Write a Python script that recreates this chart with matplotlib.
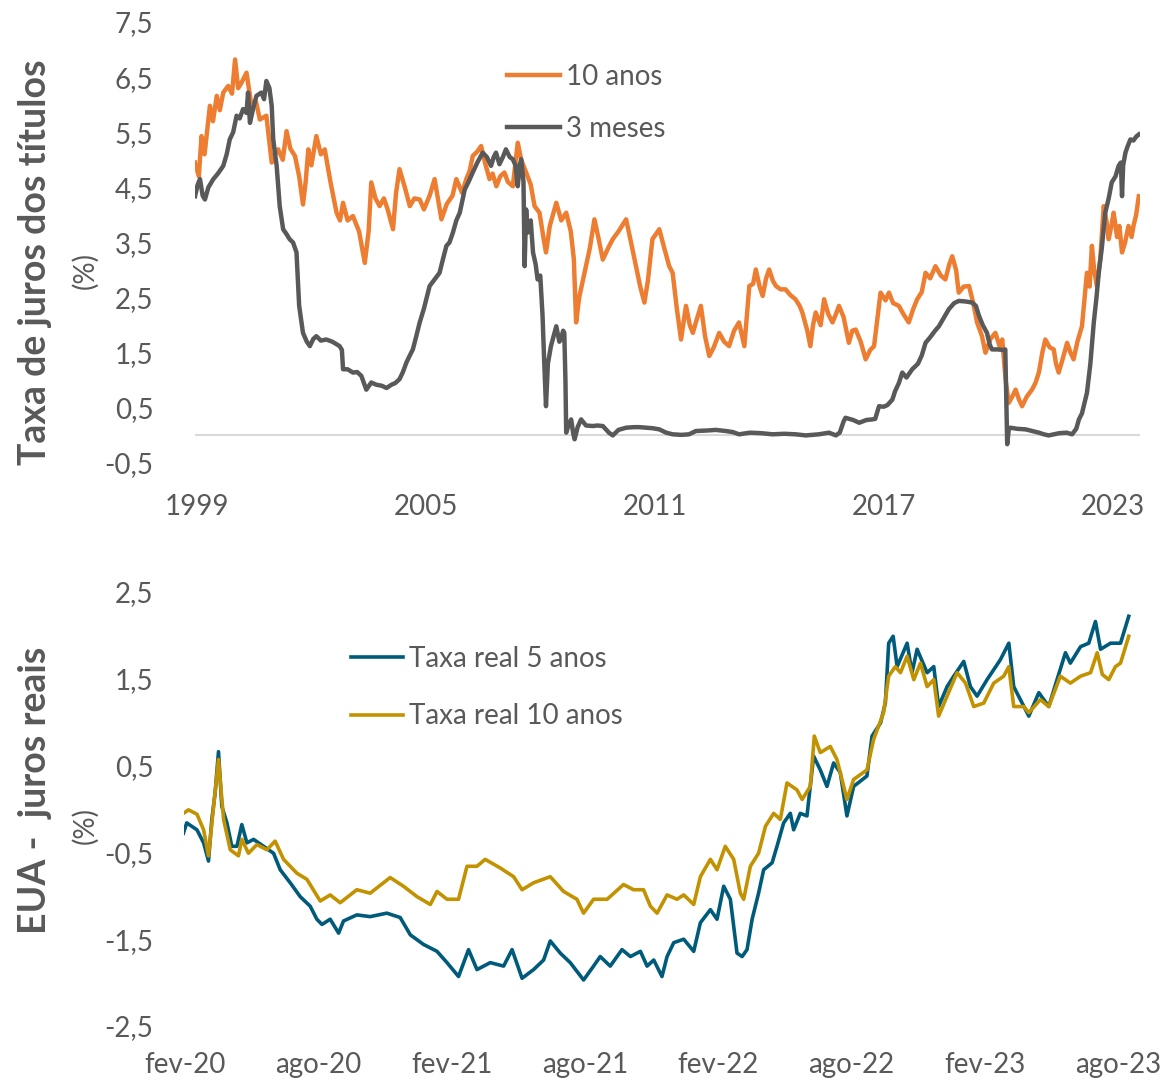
import numpy as np
import matplotlib.pyplot as plt

plt.rcParams['font.family'] = ['Lato', 'DejaVu Sans']

# ---- dados: painel superior (anos) ----
t10 = [1998.95, 1999.05, 1999.12, 1999.20, 1999.34, 1999.42, 1999.52, 1999.60, 1999.69, 1999.82,
       1999.92, 2000.00, 2000.08, 2000.17, 2000.30, 2000.43, 2000.55, 2000.65, 2000.82, 2000.96,
       2001.05, 2001.13, 2001.25, 2001.35, 2001.45, 2001.57, 2001.68, 2001.78, 2001.85, 2001.92,
       2002.00, 2002.13, 2002.25, 2002.35, 2002.50, 2002.66, 2002.75, 2002.83, 2002.95, 2003.09,
       2003.25, 2003.40, 2003.50, 2003.57, 2003.68, 2003.79, 2003.90, 2004.00, 2004.14, 2004.22,
       2004.31, 2004.45, 2004.58, 2004.70, 2004.84, 2004.95, 2005.10, 2005.23, 2005.41, 2005.55,
       2005.70, 2005.80, 2005.95, 2006.06, 2006.15, 2006.23, 2006.35, 2006.45, 2006.55, 2006.67,
       2006.75, 2006.85, 2006.95, 2007.06, 2007.15, 2007.28, 2007.41, 2007.50, 2007.63, 2007.75,
       2007.85, 2007.98, 2008.08, 2008.15, 2008.25, 2008.42, 2008.55, 2008.68, 2008.80, 2008.88,
       2008.94, 2009.02, 2009.16, 2009.30, 2009.42, 2009.52, 2009.64, 2009.78, 2009.90, 2010.05,
       2010.25, 2010.38, 2010.51, 2010.62, 2010.73, 2010.82, 2010.94, 2011.12, 2011.25, 2011.38,
       2011.47, 2011.58, 2011.69, 2011.82, 2011.92, 2012.00, 2012.10, 2012.21, 2012.32, 2012.43,
       2012.55, 2012.69, 2012.82, 2012.95, 2013.08, 2013.21, 2013.35, 2013.48, 2013.58, 2013.65,
       2013.75, 2013.83, 2013.92, 2014.00, 2014.10, 2014.18, 2014.30, 2014.43, 2014.55, 2014.69,
       2014.80, 2014.87, 2015.00, 2015.08, 2015.15, 2015.22, 2015.35, 2015.44, 2015.55, 2015.66,
       2015.75, 2015.83, 2015.95, 2016.09, 2016.18, 2016.27, 2016.40, 2016.53, 2016.65, 2016.75,
       2016.85, 2016.92, 2017.05, 2017.14, 2017.25, 2017.40, 2017.52, 2017.66, 2017.78, 2017.88,
       2018.00, 2018.10, 2018.22, 2018.36, 2018.50, 2018.62, 2018.72, 2018.80, 2018.90, 2018.97,
       2019.10, 2019.24, 2019.35, 2019.45, 2019.58, 2019.67, 2019.80, 2019.93, 2020.05, 2020.11,
       2020.20, 2020.28, 2020.37, 2020.46, 2020.55, 2020.63, 2020.75, 2020.89, 2020.98, 2021.07,
       2021.16, 2021.24, 2021.35, 2021.46, 2021.52, 2021.59, 2021.70, 2021.81, 2021.90, 2021.98,
       2022.08, 2022.20, 2022.33, 2022.40, 2022.46, 2022.52, 2022.59, 2022.68, 2022.77, 2022.84,
       2022.90, 2022.97, 2023.03, 2023.12, 2023.18, 2023.25, 2023.33, 2023.42, 2023.50, 2023.55,
       2023.62, 2023.69]
v10 = [4.95, 4.70, 5.43, 5.10, 5.98, 5.70, 6.16, 5.90, 6.22, 6.34,
       6.20, 6.82, 6.30, 6.40, 6.58, 5.98, 6.05, 5.73, 5.80, 4.95,
       5.10, 5.19, 5.00, 5.52, 5.20, 5.07, 4.70, 4.19, 4.60, 5.19,
       4.90, 5.43, 5.10, 5.19, 4.60, 4.04, 3.90, 4.22, 3.90, 3.98,
       3.70, 3.13, 3.70, 4.59, 4.30, 4.16, 4.30, 4.10, 3.74, 4.40,
       4.83, 4.50, 4.16, 4.30, 4.28, 4.10, 4.35, 4.65, 3.92, 4.20,
       4.35, 4.65, 4.40, 4.65, 4.80, 5.07, 5.15, 5.25, 4.95, 4.65,
       4.75, 4.52, 4.70, 4.77, 4.60, 4.52, 5.31, 5.00, 4.77, 4.55,
       4.16, 4.04, 3.60, 3.32, 3.80, 4.22, 3.90, 4.04, 3.70, 3.20,
       2.05, 2.50, 2.95, 3.40, 3.92, 3.60, 3.19, 3.40, 3.56, 3.70,
       3.92, 3.50, 3.07, 2.70, 2.41, 2.80, 3.56, 3.74, 3.40, 3.07,
       2.95, 2.30, 1.74, 2.35, 2.00, 1.86, 2.10, 2.35, 1.80, 1.44,
       1.60, 1.86, 1.70, 1.62, 1.90, 2.05, 1.62, 2.71, 2.75, 3.01,
       2.70, 2.53, 2.85, 3.01, 2.80, 2.71, 2.65, 2.65, 2.55, 2.47,
       2.35, 2.23, 1.90, 1.62, 2.00, 2.23, 2.00, 2.47, 2.20, 2.05,
       2.20, 2.35, 2.15, 1.68, 1.90, 1.92, 1.70, 1.38, 1.55, 1.62,
       2.20, 2.59, 2.45, 2.59, 2.40, 2.35, 2.20, 2.05, 2.30, 2.47,
       2.60, 2.95, 2.85, 3.07, 2.90, 2.83, 3.10, 3.25, 3.00, 2.59,
       2.70, 2.71, 2.40, 2.05, 1.80, 1.50, 1.75, 1.86, 1.60, 1.74,
       1.00, 0.59, 0.70, 0.83, 0.65, 0.53, 0.70, 0.83, 0.95, 1.14,
       1.50, 1.74, 1.60, 1.56, 1.30, 1.14, 1.40, 1.68, 1.50, 1.38,
       1.70, 1.98, 2.95, 2.70, 3.44, 3.00, 2.71, 3.20, 4.16, 3.90,
       3.56, 3.80, 4.04, 3.60, 3.80, 3.32, 3.50, 3.80, 3.60, 3.80,
       4.00, 4.34]

t3m = [1998.95, 1999.02, 1999.08, 1999.15, 1999.21, 1999.30, 1999.43, 1999.55, 1999.69, 1999.78,
       1999.86, 1999.95, 2000.04, 2000.12, 2000.21, 2000.30, 2000.34, 2000.39, 2000.48, 2000.56,
       2000.69, 2000.76, 2000.82, 2000.90, 2000.96, 2001.00, 2001.09, 2001.17, 2001.26, 2001.35,
       2001.43, 2001.52, 2001.61, 2001.68, 2001.78, 2001.88, 2001.96, 2002.05, 2002.13, 2002.25,
       2002.39, 2002.55, 2002.74, 2002.80, 2002.83, 2002.95, 2003.09, 2003.20, 2003.31, 2003.44,
       2003.57, 2003.70, 2003.85, 2003.97, 2004.10, 2004.20, 2004.31, 2004.40, 2004.49, 2004.58,
       2004.66, 2004.75, 2004.84, 2004.95, 2005.10, 2005.25, 2005.36, 2005.45, 2005.54, 2005.62,
       2005.71, 2005.80, 2005.89, 2006.02, 2006.12, 2006.23, 2006.35, 2006.49, 2006.60, 2006.71,
       2006.78, 2006.84, 2006.93, 2007.02, 2007.10, 2007.20, 2007.28, 2007.35, 2007.41, 2007.46,
       2007.50, 2007.56, 2007.59, 2007.63, 2007.67, 2007.75, 2007.81, 2007.88, 2007.93, 2008.00,
       2008.06, 2008.10, 2008.15, 2008.20, 2008.28, 2008.35, 2008.42, 2008.50, 2008.54, 2008.60,
       2008.63, 2008.66, 2008.68, 2008.75, 2008.81, 2008.86, 2008.90, 2008.98, 2009.07, 2009.20,
       2009.38, 2009.50, 2009.64, 2009.80, 2009.90, 2010.05, 2010.25, 2010.45, 2010.60, 2010.77,
       2010.95, 2011.12, 2011.30, 2011.47, 2011.70, 2011.90, 2012.08, 2012.40, 2012.60, 2012.86,
       2013.05, 2013.21, 2013.50, 2013.80, 2014.09, 2014.40, 2014.70, 2014.96, 2015.30, 2015.57,
       2015.75, 2015.85, 2015.95, 2016.00, 2016.20, 2016.36, 2016.55, 2016.70, 2016.78, 2016.88,
       2017.00, 2017.10, 2017.23, 2017.30, 2017.40, 2017.49, 2017.60, 2017.75, 2017.90, 2018.00,
       2018.10, 2018.22, 2018.35, 2018.45, 2018.55, 2018.71, 2018.85, 2018.97, 2019.15, 2019.32,
       2019.42, 2019.50, 2019.60, 2019.71, 2019.78, 2019.84, 2020.00, 2020.12, 2020.19, 2020.22,
       2020.24, 2020.28, 2020.32, 2020.50, 2020.72, 2020.90, 2021.07, 2021.20, 2021.33, 2021.60,
       2021.80, 2021.94, 2022.05, 2022.12, 2022.20, 2022.33, 2022.42, 2022.51, 2022.58, 2022.64,
       2022.72, 2022.81, 2022.90, 2022.98, 2023.08, 2023.16, 2023.22, 2023.25, 2023.28, 2023.34,
       2023.40, 2023.47, 2023.55, 2023.62, 2023.69]
v3m = [4.34, 4.55, 4.65, 4.35, 4.28, 4.50, 4.65, 4.75, 4.89, 5.10,
       5.37, 5.50, 5.80, 5.75, 5.92, 5.85, 6.22, 5.67, 5.95, 6.16,
       6.22, 6.10, 6.43, 6.30, 5.98, 5.37, 4.89, 4.16, 3.74, 3.65,
       3.56, 3.50, 3.32, 2.35, 1.86, 1.70, 1.62, 1.75, 1.80, 1.72,
       1.74, 1.70, 1.62, 1.55, 1.20, 1.20, 1.14, 1.15, 1.08, 0.83,
       0.96, 0.92, 0.90, 0.86, 0.92, 0.95, 1.02, 1.15, 1.32, 1.45,
       1.56, 1.80, 2.05, 2.30, 2.71, 2.85, 2.95, 3.20, 3.44, 3.50,
       3.68, 3.90, 4.04, 4.46, 4.60, 4.77, 4.95, 5.13, 5.05, 4.89,
       5.05, 5.13, 4.92, 5.05, 5.19, 5.05, 5.01, 4.90, 4.52, 4.90,
       5.01, 4.60, 3.07, 4.10, 3.68, 3.90, 3.32, 3.10, 2.83, 2.90,
       2.17, 1.40, 0.53, 1.30, 1.62, 1.80, 1.98, 1.70, 1.74, 1.90,
       1.86, 1.00, 0.05, 0.20, 0.29, 0.05, -0.07, 0.15, 0.29, 0.18,
       0.17, 0.18, 0.17, 0.05, 0.00, 0.10, 0.14, 0.15, 0.15, 0.14,
       0.13, 0.11, 0.05, 0.02, 0.01, 0.02, 0.08, 0.09, 0.10, 0.08,
       0.06, 0.02, 0.05, 0.04, 0.02, 0.03, 0.02, 0.00, 0.02, 0.05,
       0.00, 0.05, 0.25, 0.32, 0.28, 0.23, 0.28, 0.29, 0.30, 0.53,
       0.52, 0.55, 0.65, 0.80, 0.95, 1.14, 1.05, 1.20, 1.30, 1.45,
       1.68, 1.78, 1.90, 1.98, 2.10, 2.29, 2.40, 2.44, 2.43, 2.41,
       2.35, 2.17, 2.00, 1.86, 1.65, 1.56, 1.56, 1.55, 1.56, 0.50,
       -0.16, 0.10, 0.14, 0.12, 0.11, 0.08, 0.05, 0.02, 0.00, 0.04,
       0.05, 0.02, 0.12, 0.29, 0.40, 0.77, 1.30, 2.05, 2.50, 2.95,
       3.40, 4.04, 4.30, 4.59, 4.70, 4.89, 4.95, 4.34, 4.90, 5.13,
       5.25, 5.37, 5.35, 5.42, 5.46]

top_ticks = [1999, 2005, 2011, 2017, 2023]
top_yticks = [-0.5, 0.5, 1.5, 2.5, 3.5, 4.5, 5.5, 6.5, 7.5]

# ---- dados: painel inferior (meses desde fev-20) ----
m5 = [-0.08, 0.07, 0.53, 0.83, 1.05, 1.20, 1.35, 1.50, 1.65, 1.88, 2.10, 2.33, 2.55, 2.78, 3.08,
      3.53, 3.98, 4.28, 4.73, 5.18, 5.63, 5.93, 6.16, 6.53, 6.91, 7.13, 7.73, 8.33, 9.08, 9.68,
      10.14, 10.73, 11.34, 11.79, 12.31, 12.76, 13.14, 13.74, 14.34, 14.72, 15.17, 15.69, 16.14,
      16.44, 16.89, 17.34, 17.94, 18.39, 18.69, 19.14, 19.67, 20.05, 20.50, 20.80, 21.10, 21.47,
      21.70, 22.00, 22.45, 22.90, 23.20, 23.65, 23.95, 24.25, 24.55, 24.85, 25.08, 25.30, 25.53,
      25.82, 26.05, 26.43, 26.65, 26.95, 27.25, 27.40, 27.70, 28.00, 28.30, 28.60, 28.90, 29.20,
      29.50, 29.80, 30.10, 30.70, 30.93, 31.31, 31.53, 31.68, 31.88, 32.06, 32.51, 32.73, 32.96,
      33.41, 33.71, 33.93, 34.31, 34.61, 35.06, 35.36, 35.66, 36.11, 36.71, 37.09, 37.31, 37.61,
      37.99, 38.44, 38.89, 39.26, 39.64, 39.86, 40.32, 40.69, 40.99, 41.22, 41.67, 42.12, 42.49]
r5 = [-0.28, -0.16, -0.24, -0.39, -0.60, -0.12, 0.19, 0.66, 0.03, -0.16, -0.43, -0.43, -0.18, -0.39, -0.35,
      -0.43, -0.51, -0.70, -0.85, -1.01, -1.12, -1.27, -1.33, -1.27, -1.43, -1.29, -1.22, -1.24, -1.20, -1.25,
      -1.45, -1.56, -1.64, -1.77, -1.93, -1.62, -1.85, -1.77, -1.81, -1.62, -1.95, -1.85, -1.74,
      -1.52, -1.66, -1.77, -1.97, -1.81, -1.70, -1.81, -1.62, -1.70, -1.64, -1.81, -1.74, -1.93,
      -1.70, -1.54, -1.50, -1.64, -1.31, -1.16, -1.27, -0.89, -1.04, -1.66, -1.70, -1.62, -1.27,
      -0.97, -0.70, -0.62, -0.43, -0.16, -0.05, -0.24, -0.05, -0.08, 0.61, 0.45, 0.26, 0.53,
      0.42, -0.08, 0.26, 0.38, 0.84, 0.99, 1.22, 1.91, 1.99, 1.64, 1.91, 1.57, 1.84,
      1.57, 1.64, 1.18, 1.41, 1.53, 1.70, 1.41, 1.30, 1.49, 1.72, 1.91, 1.41, 1.26,
      1.07, 1.34, 1.18, 1.49, 1.80, 1.68, 1.87, 1.91, 2.16, 1.84, 1.91, 1.91, 2.22]

m10 = [-0.08, 0.15, 0.53, 0.83, 1.05, 1.28, 1.50, 1.73, 2.03, 2.40, 2.55, 2.85, 3.23, 3.68, 4.05,
       4.43, 5.03, 5.48, 6.08, 6.53, 6.98, 7.73, 8.33, 9.23, 9.83, 10.44, 11.04, 11.34, 11.79,
       12.31, 12.69, 13.14, 13.51, 14.19, 14.79, 15.17, 15.69, 16.44, 17.04, 17.64, 17.94, 18.39,
       19.00, 19.74, 20.19, 20.64, 20.95, 21.25, 21.70, 22.15, 22.45, 22.90, 23.20, 23.65, 23.95,
       24.32, 24.70, 25.00, 25.15, 25.45, 25.82, 26.13, 26.50, 26.80, 27.10, 27.55, 27.78, 28.15,
       28.33, 28.60, 29.05, 29.35, 29.80, 30.10, 30.70, 31.00, 31.45, 31.68, 31.98, 32.21, 32.51,
       32.81, 33.11, 33.41, 33.71, 33.93, 34.31, 34.76, 35.14, 35.51, 35.96, 36.41, 36.86, 37.09,
       37.31, 37.76, 37.99, 38.51, 38.89, 39.41, 39.86, 40.32, 40.77, 41.07, 41.30, 41.59, 41.89,
       42.12, 42.49]
r10 = [-0.05, -0.01, -0.06, -0.24, -0.54, 0.03, 0.57, -0.12, -0.47, -0.54, -0.35, -0.51, -0.41, -0.47, -0.37,
       -0.58, -0.74, -0.81, -1.06, -0.99, -1.08, -0.93, -0.97, -0.79, -0.89, -1.01, -1.10, -0.95, -1.04,
       -1.04, -0.66, -0.66, -0.58, -0.68, -0.78, -0.93, -0.85, -0.78, -0.95, -1.04, -1.20, -1.04,
       -1.04, -0.87, -0.93, -0.93, -1.12, -1.20, -0.99, -1.04, -0.99, -1.10, -0.78, -0.58, -0.70,
       -0.43, -0.58, -0.97, -1.04, -0.66, -0.51, -0.20, -0.05, -0.12, 0.30, 0.22, 0.11, 0.26,
       0.84, 0.65, 0.72, 0.57, 0.11, 0.34, 0.45, 0.80, 1.11, 1.53, 1.64, 1.57, 1.76,
       1.49, 1.68, 1.41, 1.49, 1.07, 1.30, 1.57, 1.45, 1.18, 1.22, 1.45, 1.53, 1.64,
       1.18, 1.18, 1.11, 1.26, 1.18, 1.53, 1.45, 1.53, 1.57, 1.80, 1.55, 1.49, 1.64,
       1.68, 1.99]

bot_ticks = [0, 6, 12, 18, 24, 30, 36, 42]
bot_labels = ['fev-20', 'ago-20', 'fev-21', 'ago-21', 'fev-22', 'ago-22', 'fev-23', 'ago-23']
bot_yticks = [-2.5, -1.5, -0.5, 0.5, 1.5, 2.5]

txt = '#595959'
fs = 20

fig = plt.figure(figsize=(11.65, 10.84), dpi=100)

def estilo(ax):
    for s in ax.spines.values():
        s.set_visible(False)
    ax.tick_params(length=0, labelsize=fs, labelcolor=txt)

# painel superior
ax1 = fig.add_axes([0.1674, 0.5729, 0.8111, 0.4068])
ax1.axhline(0, color='#D9D9D9', lw=1.5, zorder=1)
ax1.plot(t10, v10, color='#ED7D31', lw=3.2, label='10 anos', zorder=3)
ax1.plot(t3m, v3m, color='#595959', lw=3.2, label='3 meses', zorder=4)
ax1.set_xlim(1998.95, 2023.72)
ax1.set_ylim(-0.5, 7.5)
ax1.set_xticks(top_ticks)
ax1.set_xticklabels([str(a) for a in top_ticks])
ax1.set_yticks(top_yticks)
ax1.set_yticklabels([f'{y:.1f}'.replace('.', ',') for y in top_yticks])
estilo(ax1)
ax1.tick_params(axis='y', pad=30)
ax1.tick_params(axis='x', pad=22)
ax1.legend(loc='upper left', bbox_to_anchor=(0.414, 0.964), bbox_transform=fig.transFigure,
           frameon=False, fontsize=fs, labelcolor=txt, handlelength=1.9,
           handletextpad=0.2, labelspacing=0.94)

# painel inferior
ax2 = fig.add_axes([0.158, 0.0535, 0.8206, 0.4004])
ax2.plot(m5, r5, color='#005B7A', lw=2.6, label='Taxa real 5 anos', zorder=3)
ax2.plot(m10, r10, color='#C29200', lw=2.6, label='Taxa real 10 anos', zorder=4)
ax2.set_xlim(-0.05, 43.0)
ax2.set_ylim(-2.5, 2.5)
ax2.set_xticks(bot_ticks)
ax2.set_xticklabels(bot_labels)
ax2.set_yticks(bot_yticks)
ax2.set_yticklabels([f'{y:.1f}'.replace('.', ',') for y in bot_yticks])
estilo(ax2)
ax2.tick_params(axis='y', pad=22)
ax2.tick_params(axis='x', pad=19)
ax2.legend(loc='upper left', bbox_to_anchor=(0.2795, 0.427), bbox_transform=fig.transFigure,
           frameon=False, fontsize=fs, labelcolor=txt, handlelength=1.9,
           handletextpad=0.2, labelspacing=1.12)

# titulos dos eixos
fig.text(0.030, 1 - 262 / 1084, 'Taxa de juros dos títulos', rotation=90, ha='center', va='center',
         fontsize=27, fontweight='bold', color=txt)
fig.text(0.073, 1 - 270 / 1084, '(%)', rotation=90, ha='center', va='center', fontsize=fs, color=txt)
fig.text(0.030, 1 - 790 / 1084, 'EUA -  juros reais', rotation=90, ha='center', va='center',
         fontsize=27, fontweight='bold', color=txt)
fig.text(0.073, 1 - 825 / 1084, '(%)', rotation=90, ha='center', va='center', fontsize=fs, color=txt)

fig.savefig('out.png', dpi=100)
